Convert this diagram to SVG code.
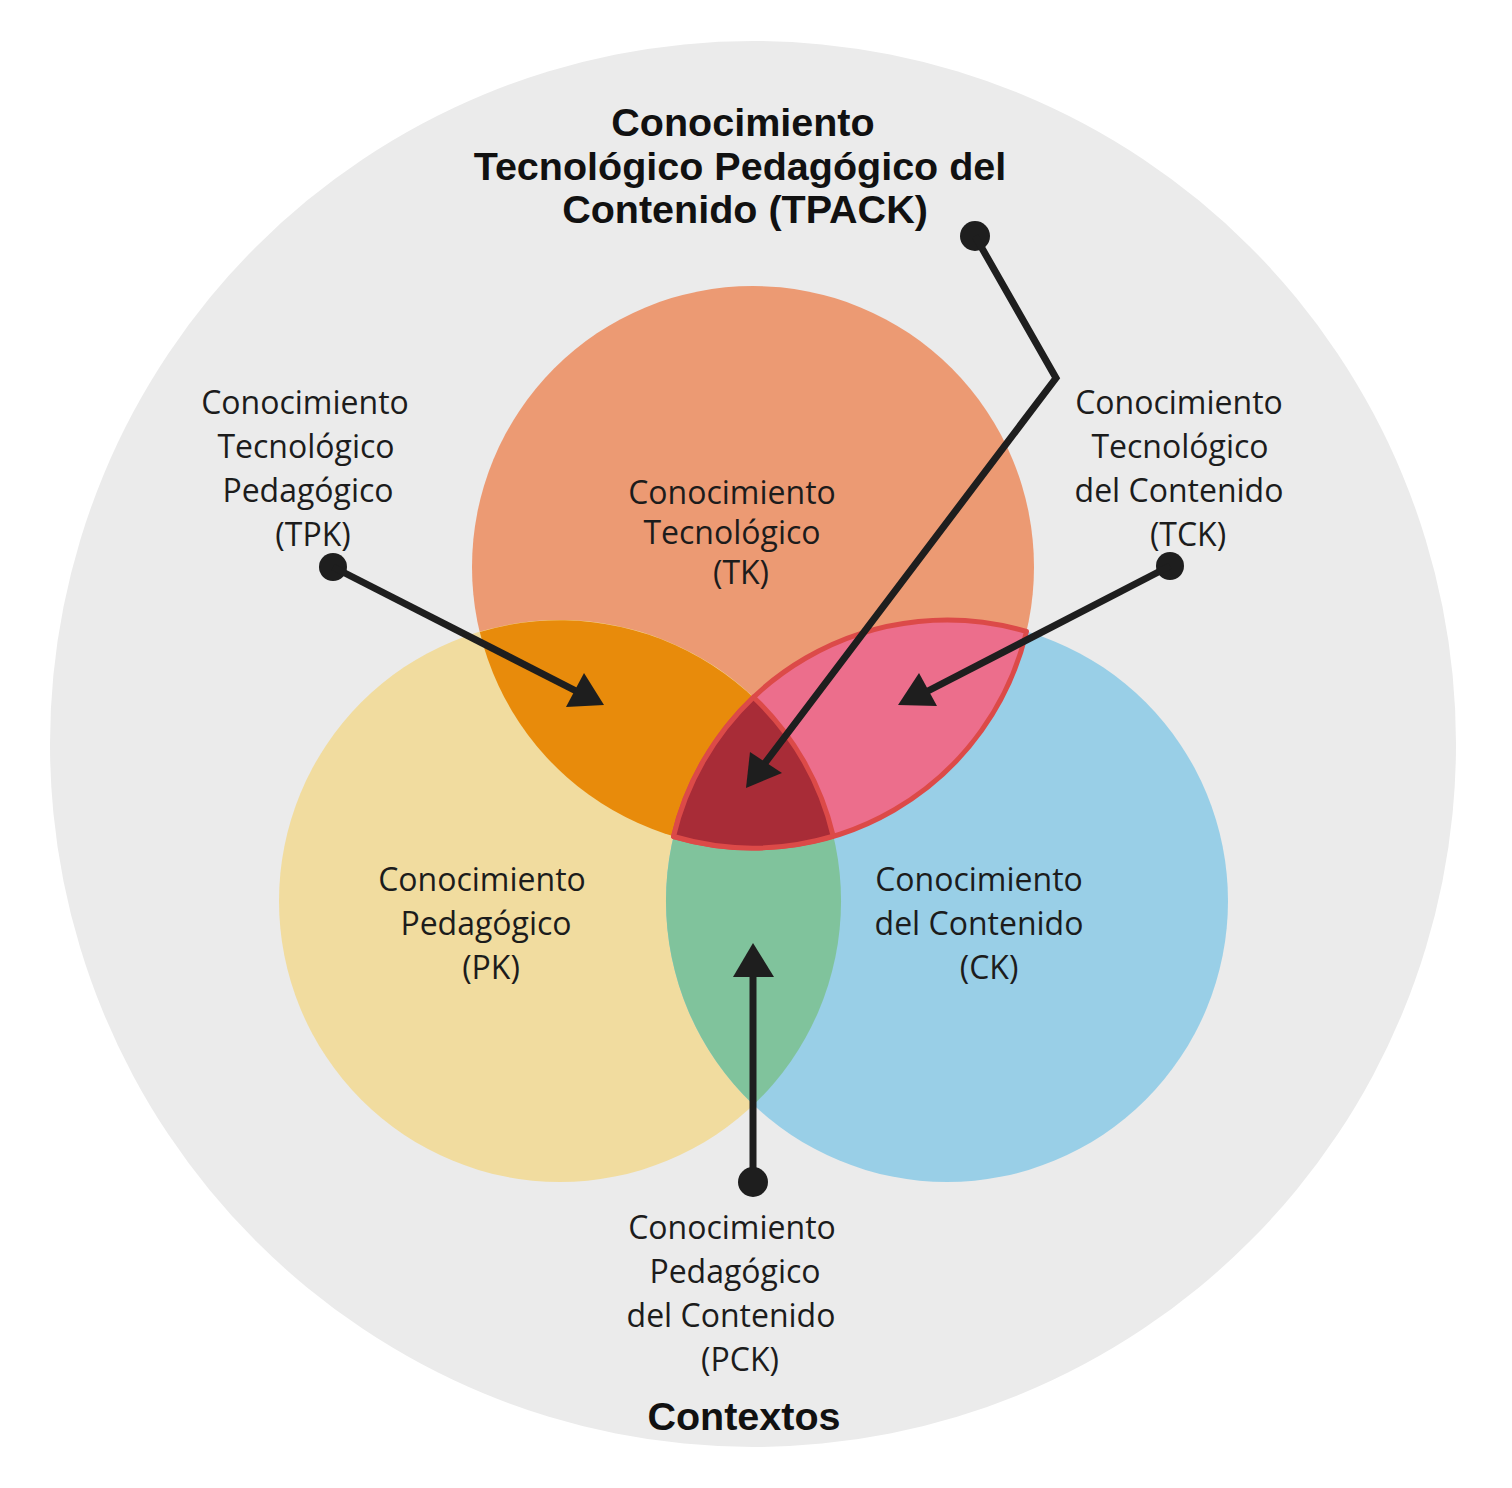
<svg xmlns="http://www.w3.org/2000/svg" width="1512" height="1488" viewBox="0 0 1512 1488">
<style>
.lbl{font-family:"Open Sans","Noto Sans",sans-serif;font-size:32px;fill:#1c1c1c;text-anchor:middle}
.ttl{font-family:"Liberation Sans",Arial,sans-serif;font-size:39.5px;font-weight:bold;fill:#111;text-anchor:middle}
.ln{fill:none;stroke:#1e1e1e;stroke-width:7;stroke-linejoin:miter}
.dot{fill:#1e1e1e}
.hd{fill:#1e1e1e}
.edge{stroke:#dc4a48;stroke-width:5;stroke-linejoin:round}
</style>
<rect width="1512" height="1488" fill="#ffffff"/>
<g id="contextos">
<circle cx="753" cy="744" r="703" fill="#ebebeb"/>
<text class="ttl" x="744" y="1430">Contextos</text>
</g>
<g id="tk">
<circle cx="753" cy="567" r="281" fill="#ec9a73"/>
<text class="lbl"><tspan x="732" y="504">Conocimiento</tspan><tspan x="732" y="544">Tecnológico</tspan><tspan x="741" y="584">(TK)</tspan></text>
</g>
<g id="pk">
<circle cx="560" cy="901" r="281" fill="#f1dc9f"/>
<text class="lbl"><tspan x="482" y="891">Conocimiento</tspan><tspan x="486" y="935">Pedagógico</tspan><tspan x="491" y="979">(PK)</tspan></text>
</g>
<g id="ck">
<circle cx="947" cy="901" r="281" fill="#99cfe7"/>
<text class="lbl"><tspan x="979" y="891">Conocimiento</tspan><tspan x="979" y="935">del Contenido</tspan><tspan x="989" y="979">(CK)</tspan></text>
</g>
<g id="tpk">
<path d="M479.8,631.9 A281,281 0 0 0 833.2,836.1 A281,281 0 0 0 479.8,631.9 Z" fill="#e88b0b"/>
<text class="lbl"><tspan x="305" y="414">Conocimiento</tspan><tspan x="306" y="458">Tecnológico</tspan><tspan x="308" y="502">Pedagógico</tspan><tspan x="313" y="546">(TPK)</tspan></text>
</g>
<g id="pck">
<path d="M753.5,697.2 A281,281 0 0 0 753.5,1104.8 A281,281 0 0 0 753.5,697.2 Z" fill="#80c39c"/>
<text class="lbl"><tspan x="732" y="1239">Conocimiento</tspan><tspan x="735" y="1283">Pedagógico</tspan><tspan x="731" y="1327">del Contenido</tspan><tspan x="740" y="1371">(PCK)</tspan></text>
</g>
<g id="tck">
<path class="edge" d="M673.5,836.5 A281,281 0 0 0 1026.5,631.5 A281,281 0 0 0 673.5,836.5 Z" fill="#ec6e8c"/>
<text class="lbl"><tspan x="1179" y="414">Conocimiento</tspan><tspan x="1180" y="458">Tecnológico</tspan><tspan x="1179" y="502">del Contenido</tspan><tspan x="1188" y="546">(TCK)</tspan></text>
</g>
<g id="tpack">
<path class="edge" d="M753.5,697.2 A281,281 0 0 1 833.2,836.1 A281,281 0 0 1 673.5,836.5 A281,281 0 0 1 753.5,697.2 Z" fill="#a82c37"/>
<text class="ttl"><tspan x="743" y="136">Conocimiento</tspan><tspan x="740" y="180">Tecnológico Pedagógico del</tspan><tspan x="745" y="223">Contenido (TPACK)</tspan></text>
</g>
<g id="connectors">
<circle class="dot" cx="333" cy="567" r="14"/>
<line class="ln" x1="333" y1="567" x2="580" y2="693"/>
<polygon class="hd" points="604,705 566,707 584,673"/>
<circle class="dot" cx="1170" cy="566" r="14"/>
<line class="ln" x1="1170" y1="566" x2="924" y2="693"/>
<polygon class="hd" points="898,705 937,706 919,673"/>
<circle class="dot" cx="975" cy="236" r="15"/>
<polyline class="ln" points="975,236 1056,378 765,763"/>
<polygon class="hd" points="746,788 750,752 782,773"/>
<circle class="dot" cx="753" cy="1182" r="15"/>
<line class="ln" x1="753" y1="1182" x2="753" y2="970"/>
<polygon class="hd" points="753,943 733,977 774,977"/>
</g>
</svg>
